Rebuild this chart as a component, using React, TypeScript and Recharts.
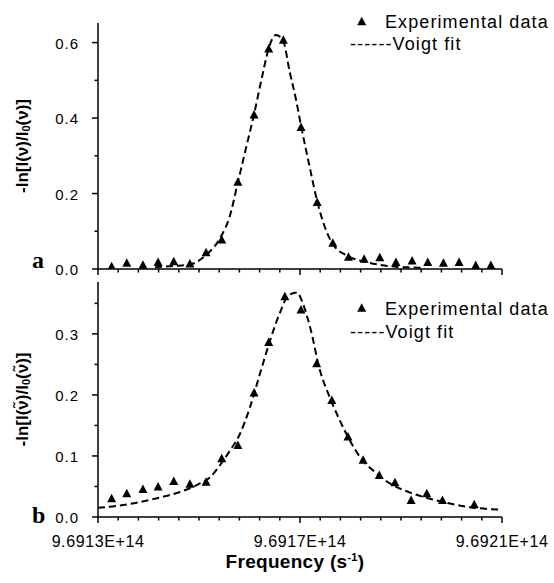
import React from 'react';
import { ComposedChart, Line, Scatter, XAxis, YAxis, Legend, Label } from 'recharts';

// frequencies (s^-1) of the measured points, panel a
const topPointFreq = [
  9.691327e14, 9.691357e14, 9.691389e14, 9.691419e14, 9.69145e14, 9.691482e14, 9.691514e14,
  9.691545e14, 9.691577e14, 9.691609e14, 9.691638e14, 9.691667e14, 9.691702e14, 9.691734e14,
  9.691765e14, 9.691796e14, 9.691827e14, 9.691858e14, 9.69189e14, 9.691922e14, 9.691953e14,
  9.691984e14, 9.692015e14, 9.692048e14, 9.692078e14,
];
const topPointAbs = [
  0.006, 0.015, 0.01, 0.017, 0.019, 0.013, 0.043, 0.077, 0.23, 0.408, 0.583, 0.606, 0.375,
  0.176, 0.068, 0.031, 0.026, 0.03, 0.017, 0.021, 0.017, 0.015, 0.017, 0.009, 0.009,
];
const topFitFreq = [
  9.6914129e14, 9.6914505e14, 9.691482e14, 9.691514e14, 9.6915435e14, 9.691561e14, 9.691577e14,
  9.691593e14, 9.691609e14, 9.691625e14, 9.691637e14, 9.691652e14, 9.691666e14, 9.69168e14,
  9.691692e14, 9.691702e14, 9.69172e14, 9.691734e14, 9.691749e14, 9.691765e14, 9.691797e14,
  9.691829e14, 9.691858e14, 9.69189e14, 9.691922e14, 9.691947e14,
];
const topFitAbs = [
  0.0045, 0.008, 0.012, 0.037, 0.086, 0.14, 0.23, 0.32, 0.41, 0.51, 0.58, 0.62, 0.607, 0.52,
  0.45, 0.38, 0.265, 0.18, 0.112, 0.066, 0.033, 0.019, 0.011, 0.006, 0.004, 0.003,
];

// panel b
const botPointFreq = [
  9.691327e14, 9.691357e14, 9.691389e14, 9.691419e14, 9.69145e14, 9.691482e14, 9.691514e14,
  9.691545e14, 9.691577e14, 9.691609e14, 9.691638e14, 9.69167e14, 9.691702e14, 9.691733e14,
  9.691763e14, 9.691795e14, 9.691825e14, 9.691857e14, 9.691888e14, 9.69192e14, 9.691951e14,
  9.691982e14, 9.692045e14,
];
const botPointAbs = [
  0.03, 0.038, 0.045, 0.049, 0.058, 0.0535, 0.057, 0.0955, 0.117, 0.203, 0.286, 0.361, 0.339,
  0.251, 0.191, 0.131, 0.093, 0.068, 0.056, 0.027, 0.038, 0.027, 0.02,
];
const botFitFreq = [
  9.6913e14, 9.6913436e14, 9.6913832e14, 9.6914228e14, 9.6914624e14, 9.691502e14, 9.6915218e14,
  9.6915416e14, 9.6915614e14, 9.691581e14, 9.691601e14, 9.6916208e14, 9.6916406e14,
  9.6916604e14, 9.691676e14, 9.691694e14, 9.691706e14, 9.69172e14, 9.6917396e14, 9.691759e14,
  9.691779e14, 9.691799e14, 9.691819e14, 9.691848e14, 9.691878e14, 9.691918e14, 9.691957e14,
  9.691997e14, 9.692037e14, 9.6921e14,
];
const botFitAbs = [
  0.015, 0.019, 0.0245, 0.032, 0.041, 0.055, 0.065, 0.085, 0.109, 0.136, 0.18, 0.235, 0.289,
  0.335, 0.362, 0.368, 0.349, 0.311, 0.24, 0.196, 0.158, 0.125, 0.098, 0.074, 0.055, 0.04,
  0.03, 0.022, 0.016, 0.012,
];

const xTicks = [
  9.6913e14, 9.69134e14, 9.69138e14, 9.69142e14, 9.69146e14, 9.6915e14, 9.69154e14, 9.69158e14,
  9.69162e14, 9.69166e14, 9.6917e14, 9.69174e14, 9.69178e14, 9.69182e14, 9.69186e14, 9.6919e14,
  9.69194e14, 9.69198e14, 9.69202e14, 9.69206e14, 9.6921e14,
];
const xMajor = [9.6913e14, 9.6917e14, 9.6921e14];
const topYTicks = [0, 0.1, 0.2, 0.3, 0.4, 0.5, 0.6];
const topYMajor = [0, 0.2, 0.4, 0.6];
const botYTicks = [0, 0.05, 0.1, 0.15, 0.2, 0.25, 0.3, 0.35];
const botYMajor = [0, 0.1, 0.2, 0.3];

const zip = (f: number[], a: number[]) => f.map((v, i) => ({ f: v, a: a[i] }));

const SANS = "Arial, 'Liberation Sans', sans-serif";
const SERIF = "'Times New Roman', 'Liberation Serif', serif";

const isIn = (list: number[], v: number, tol: number) => list.some((m) => Math.abs(m - v) < tol);

const XTick = ({ x, y, payload, showLabel }: any) => {
  const major = isIn(xMajor, payload.value, 1e6);
  return (
    <g>
      <line x1={x} x2={x} y1={y} y2={y + (major ? 6 : 3.5)} stroke="#000" strokeWidth={1.5} />
      {showLabel && major && (
        <text x={x} y={y + 30} textAnchor="middle" fontFamily={SANS} fontSize={16} letterSpacing={0.6} fill="#000">
          {payload.value.toExponential(4).toUpperCase()}
        </text>
      )}
    </g>
  );
};

const YTick = ({ x, y, payload, majors }: any) => {
  const major = isIn(majors, payload.value, 1e-6);
  return (
    <g>
      <line x1={x - (major ? 6 : 3.5)} x2={x} y1={y} y2={y} stroke="#000" strokeWidth={1.5} />
      {major && (
        <text x={x - 19} y={y + 6} textAnchor="end" fontFamily={SANS} fontSize={15} letterSpacing={1} fill="#000">
          {payload.value.toFixed(1)}
        </text>
      )}
    </g>
  );
};

const Triangle = (props: any) => {
  const { cx, cy } = props;
  if (cx == null || cy == null) return null;
  return <polygon points={`${cx},${cy - 5} ${cx - 4.5},${cy + 3.5} ${cx + 4.5},${cy + 3.5}`} fill="#000" />;
};

const YLabel = ({ viewBox, letter, tilde }: any) => {
  const cy = viewBox.y + viewBox.height / 2;
  const nu = tilde ? 'ν\u0303' : 'ν';
  return (
    <g>
      <text
        x={22}
        y={cy}
        transform={`rotate(-90, 22, ${cy})`}
        textAnchor="middle"
        dominantBaseline="central"
        fontFamily={SANS}
        fontWeight="bold"
        fontSize={17}
        fill="#000"
      >
        -ln[I({nu})/I
        <tspan fontSize={11} dy={4}>0</tspan>
        <tspan dy={-4}>({nu})]</tspan>
      </text>
      <text x={32} y={viewBox.y + viewBox.height + (tilde ? 6 : -1)} fontFamily={SERIF} fontWeight="bold" fontSize={24} fill="#000">
        {letter}
      </text>
    </g>
  );
};

const XLabel = () => (
  <text x={295} y={298} textAnchor="middle" fontFamily={SANS} fontWeight="bold" fontSize={19} letterSpacing={0.3} fill="#000">
    Frequency (s<tspan fontSize={11} dy={-7}>-1</tspan>
    <tspan dy={7}>)</tspan>
  </text>
);

const LegendBox = ({ tri, row1, row2, dashes }: any) => (
  <svg width={210} height={75} style={{ overflow: 'visible' }}>
    <polygon points={`${16.7},${tri - 5} ${12.2},${tri + 3.5} ${21.2},${tri + 3.5}`} fill="#000" />
    <text x={40} y={row1} fontFamily={SANS} fontSize={18} letterSpacing={1.1} fill="#000">
      Experimental data
    </text>
    <text x={5} y={row2} fontFamily={SANS} fontSize={18} letterSpacing={1.1} fill="#000">
      {dashes}Voigt fit
    </text>
  </svg>
);

interface PanelProps {
  points: { f: number; a: number }[];
  fit: { f: number; a: number }[];
  height: number;
  top: number;
  bottomMargin: number;
  xHeight: number;
  yMax: number;
  yTicks: number[];
  yMajor: number[];
  letter: string;
  tilde?: boolean;
  showXLabels?: boolean;
  legend: { tri: number; row1: number; row2: number; dashes: string };
}

const Panel = (p: PanelProps) => (
  <ComposedChart
    width={554}
    height={p.height}
    margin={{ top: p.top, right: 52, bottom: p.bottomMargin, left: 38 }}
  >
    <XAxis
      type="number"
      dataKey="f"
      domain={[9.6913e14, 9.6921e14]}
      ticks={xTicks}
      interval={0}
      height={p.xHeight}
      tickSize={0}
      tickMargin={0}
      tickLine={false}
      axisLine={{ stroke: '#000', strokeWidth: 1.5 }}
      tick={(props: any) => <XTick {...props} showLabel={p.showXLabels} />}
    >
      {p.showXLabels && <Label content={() => <XLabel />} />}
    </XAxis>
    <YAxis
      type="number"
      dataKey="a"
      width={60}
      domain={[0, p.yMax]}
      ticks={p.yTicks}
      interval={0}
      allowDataOverflow
      tickSize={0}
      tickMargin={0}
      tickLine={false}
      axisLine={{ stroke: '#000', strokeWidth: 1.5 }}
      tick={(props: any) => <YTick {...props} majors={p.yMajor} />}
    >
      <Label content={(lp: any) => <YLabel {...lp} letter={p.letter} tilde={p.tilde} />} />
    </YAxis>
    <Legend
      layout="horizontal"
      verticalAlign="middle"
      align="center"
      wrapperStyle={{ left: 345, top: 0, width: 210, height: 75 }}
      content={() => <LegendBox {...p.legend} />}
    />
    <Line
      data={p.fit}
      dataKey="a"
      type="monotone"
      stroke="#000"
      strokeWidth={2}
      strokeDasharray="7 4"
      dot={false}
      activeDot={false}
      isAnimationActive={false}
    />
    <Scatter data={p.points} dataKey="a" shape={<Triangle />} isAnimationActive={false} />
  </ComposedChart>
);

export default function App() {
  return (
    <div style={{ position: 'absolute', left: 0, top: 0, width: 554, height: 583, background: '#fff' }}>
      <div style={{ position: 'absolute', left: 0, top: 0 }}>
        <Panel
          points={zip(topPointFreq, topPointAbs)}
          fit={zip(topFitFreq, topFitAbs)}
          height={280}
          top={23}
          bottomMargin={3}
          xHeight={8}
          yMax={0.652}
          yTicks={topYTicks}
          yMajor={topYMajor}
          letter="a"
          legend={{ tri: 21.7, row1: 28, row2: 50, dashes: '------' }}
        />
      </div>
      <div style={{ position: 'absolute', left: 0, top: 270 }}>
        <Panel
          points={zip(botPointFreq, botPointAbs)}
          fit={zip(botFitFreq, botFitAbs)}
          height={313}
          top={12}
          bottomMargin={10}
          xHeight={56}
          yMax={0.385}
          yTicks={botYTicks}
          yMajor={botYMajor}
          letter="b"
          tilde
          showXLabels
          legend={{ tri: 38.3, row1: 45, row2: 68, dashes: '-----' }}
        />
      </div>
    </div>
  );
}
